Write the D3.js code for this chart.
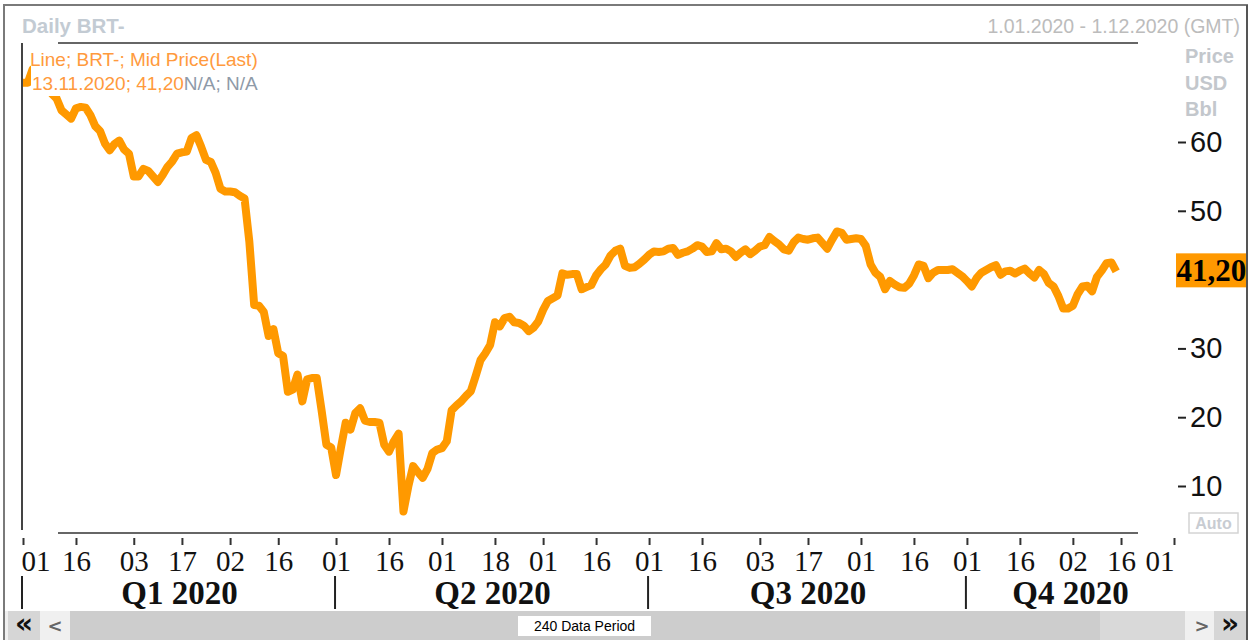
<!DOCTYPE html>
<html><head><meta charset="utf-8">
<script src="https://cdn.jsdelivr.net/npm/d3@7"></script>
<style>body{margin:0;background:#fff;overflow:hidden}</style>
</head><body>
<svg id="c" width="1252" height="640"></svg>
<script>
const titleText = "Daily BRT-";
const rangeText = "1.01.2020 - 1.12.2020 (GMT)";
const seriesName = "Line; BRT-; Mid Price(Last)";
const unitLabels = ["Price", "USD", "Bbl"];
const periodLabel = "240 Data Period";

// Daily mid price (USD/bbl), one value per weekday starting 2020-01-01, ending 2020-11-13
const prices = [
  68.6, 68.6, 70.6, 70.8, 70.4, 68.9, 67.0, 66.3, 64.6, 64.0,
  63.4, 64.9, 65.1, 65.0, 63.9, 62.3, 61.6, 59.8, 58.8, 59.7,
  60.2, 58.9, 58.3, 55.0, 55.0, 56.1, 55.8, 55.0, 54.2, 55.2,
  56.4, 57.2, 58.3, 58.5, 58.6, 60.6, 61.0, 59.3, 57.4, 57.1,
  55.5, 53.2, 52.8, 52.8, 52.7, 52.2, 51.8, 45.5, 36.3, 36.2,
  35.3, 31.8, 32.8, 29.3, 28.9, 23.7, 24.0, 26.2, 22.3, 25.5,
  25.7, 25.7, 21.0, 16.0, 15.6, 11.6, 15.5, 19.2, 18.2, 20.6,
  21.3, 19.5, 19.3, 19.3, 19.2, 16.0, 15.0, 16.5, 17.6, 6.3,
  9.9, 12.9, 12.0, 11.2, 12.5, 14.8, 15.3, 15.5, 16.5, 21.0,
  21.7, 22.3, 23.1, 23.8, 26.0, 28.3, 29.3, 30.5, 33.8, 33.2,
  34.4, 34.6, 33.8, 33.7, 33.3, 32.5, 33.0, 33.9, 35.6, 36.9,
  37.3, 37.7, 40.9, 40.7, 40.8, 40.8, 38.6, 38.9, 39.2, 40.6,
  41.5, 42.2, 43.5, 44.2, 44.5, 42.0, 41.7, 41.8, 42.3, 42.9,
  43.6, 44.1, 44.0, 44.1, 44.5, 44.6, 43.6, 43.9, 44.1, 44.5,
  45.0, 44.8, 44.0, 44.1, 45.3, 44.4, 44.5, 44.1, 43.3, 43.9,
  44.4, 43.7, 44.2, 44.8, 45.0, 46.2, 45.6, 45.1, 44.4, 44.2,
  45.4, 46.1, 45.9, 45.8, 46.0, 46.1, 45.3, 44.5, 45.8, 47.0,
  46.8, 45.8, 45.9, 46.0, 45.9, 44.9, 42.2, 41.0, 40.4, 38.6,
  39.8, 39.3, 38.9, 38.8, 39.4, 40.6, 42.2, 42.0, 40.2, 41.0,
  41.4, 41.4, 41.4, 41.5, 41.0, 40.5, 39.8, 39.0, 40.2, 41.0,
  41.4, 41.8, 42.1, 40.7, 41.2, 41.3, 40.9, 41.3, 41.6, 40.9,
  40.3, 41.4, 40.8, 39.5, 39.0, 37.6, 35.8, 35.8, 36.2, 37.9,
  39.0, 39.1, 38.3, 40.4, 41.3, 42.4, 42.5, 41.2
];

const tickDates = ["2020-01-01","2020-01-16","2020-02-03","2020-02-17","2020-03-02","2020-03-16",
  "2020-04-01","2020-04-16","2020-05-01","2020-05-18","2020-06-01","2020-06-16",
  "2020-07-01","2020-07-16","2020-08-03","2020-08-17","2020-09-01","2020-09-16",
  "2020-10-01","2020-10-16","2020-11-02","2020-11-16","2020-12-01"];
const tickLabels = ["01","16","03","17","02","16","01","16","01","18","01","16",
  "01","16","03","17","01","16","01","16","02","16","01"];
const quarterLabels = ["Q1 2020","Q2 2020","Q3 2020","Q4 2020"];
const quarterStarts = ["2020-01-01","2020-04-01","2020-07-01","2020-10-01","2020-12-01"];
const yTicks = [10, 20, 30, 40, 50, 60];

const fmt = d3.timeFormat("%Y-%m-%d");
const days = d3.timeDay.range(new Date(2020,0,1), new Date(2020,11,2))
  .filter(d => d.getDay() !== 0 && d.getDay() !== 6);
const idx = s => days.findIndex(d => fmt(d) === s);

const svg = d3.select("#c");
const ORANGE = "#ff9900";

// frame
svg.append("rect").attr("x",4).attr("y",5).attr("width",1243).attr("height",640)
  .attr("fill","#fff").attr("stroke","#7a7a7a").attr("stroke-width",2);

const x = d3.scaleLinear().domain([0, days.length - 1]).range([23, 1174]);
const y = d3.scaleLinear().domain([10, 60]).range([486, 142]);

// header
svg.append("text").attr("x",22).attr("y",33).text(titleText)
  .style("font","bold 20.5px 'Liberation Sans', Arial, sans-serif").attr("fill","#c3cbd3");
svg.append("text").attr("x",1240).attr("y",33).attr("text-anchor","end").text(rangeText)
  .style("font","19.5px 'Liberation Sans', Arial, sans-serif").attr("fill","#bcbcbc");
unitLabels.forEach((t,i) => svg.append("text").attr("x",1185).attr("y",63 + i*26.5).text(t)
  .style("font","bold 20px 'Liberation Sans', Arial, sans-serif").attr("fill","#c3c7cc"));

// frame lines
svg.append("line").attr("x1",58).attr("x2",1138).attr("y1",43).attr("y2",43).attr("stroke","#666").attr("stroke-width",2);
svg.append("line").attr("x1",58).attr("x2",1138).attr("y1",533).attr("y2",533).attr("stroke","#666").attr("stroke-width",2);
svg.append("line").attr("x1",22).attr("x2",22).attr("y1",43).attr("y2",530).attr("stroke","#444").attr("stroke-width",2);

// price line
const line = d3.line().x((d,i) => x(i)).y(d => y(d));
svg.append("path").datum(prices).attr("d", line).attr("fill","none")
  .attr("stroke", ORANGE).attr("stroke-width",8).attr("stroke-linejoin","round");

// legend (with white background covering the line)
svg.append("rect").attr("x",31).attr("y",47).attr("width",245).attr("height",49).attr("fill","#fff");
const lastIdx = prices.length - 1;
const lastVal = d3.format(".2f")(prices[lastIdx]).replace(".", ",");
const lastDate = d3.timeFormat("%d.%m.%Y")(days[lastIdx]);
svg.append("text").attr("x",30).attr("y",66).text(seriesName)
  .style("font","19px 'Liberation Sans', Arial, sans-serif").attr("fill","#ff9a3d");
const l2 = svg.append("text").attr("x",32).attr("y",90)
  .style("font","19px 'Liberation Sans', Arial, sans-serif");
l2.append("tspan").attr("fill","#ff9a3d").text(lastDate + "; " + lastVal);
l2.append("tspan").attr("fill","#8e9aa8").text("N/A; N/A");

// bottom axis
const tickIdx = tickDates.map(idx);
const xAxis = d3.axisBottom(x).tickValues(tickIdx).tickSize(7).tickFormat((d,i) => tickLabels[i]);
const gx = svg.append("g").attr("transform","translate(0,538)").call(xAxis);
gx.select(".domain").remove();
gx.selectAll(".tick line").attr("stroke","#333").attr("stroke-width",2);
gx.selectAll(".tick text").attr("y",12).attr("dy","0.71em").attr("fill","#111")
  .style("font","29px 'Liberation Serif', 'Times New Roman', serif")
  .attr("text-anchor",(d,i) => i === 0 ? "start" : (i === tickIdx.length - 1 ? "end" : "middle"))
  .attr("dx",(d,i) => i === 0 ? -2 : 0);

// quarters
const qIdx = quarterStarts.map(idx);
quarterLabels.forEach((q,i) => {
  const x0 = x(qIdx[i]), x1 = x(qIdx[i+1]);
  svg.append("line").attr("x1",x0 - 1).attr("x2",x0 - 1).attr("y1",576).attr("y2",609)
    .attr("stroke","#222").attr("stroke-width",2);
  svg.append("text").attr("x",(x0 + x1)/2).attr("y",604).attr("text-anchor","middle").text(q)
    .style("font","bold 33px 'Liberation Serif', 'Times New Roman', serif").attr("fill","#111");
});

// last value label sits over the 40 tick, so that tick keeps only its mark
const lastY = y(prices[lastIdx]);
const hidden = v => Math.abs(y(v) - lastY) < 20;

// right axis
const yAxis = d3.axisRight(y).tickValues(yTicks).tickSize(8).tickPadding(4)
  .tickFormat(v => hidden(v) ? "" : d3.format("d")(v));
const gy = svg.append("g").attr("transform","translate(1178,0)").call(yAxis);
gy.select(".domain").remove();
gy.selectAll(".tick line").attr("stroke","#222").attr("stroke-width",2);
gy.selectAll(".tick text").attr("fill","#111")
  .style("font","29px 'Liberation Sans', Arial, sans-serif");

svg.append("rect").attr("x",1176).attr("y",lastY - 18).attr("width",71).attr("height",34).attr("fill",ORANGE);
svg.append("text").attr("x",1176.5).attr("y",lastY + 10).text(lastVal)
  .style("font","bold 31px 'Liberation Serif', 'Times New Roman', serif").attr("fill","#000");
svg.append("line").attr("x1",1247).attr("x2",1247).attr("y1",5).attr("y2",640).attr("stroke","#555").attr("stroke-width",2);

// Auto box
svg.append("rect").attr("x",1189).attr("y",513).attr("width",49).attr("height",20)
  .attr("fill","#fff").attr("stroke","#d4d4d4").attr("stroke-width",1.5);
svg.append("text").attr("x",1213.5).attr("y",529).attr("text-anchor","middle").text("Auto")
  .style("font","bold 16px 'Liberation Sans', Arial, sans-serif").attr("fill","#c8ccd2");

// scrollbar
const sbY = 611, sbH = 29;
svg.append("rect").attr("x",5).attr("y",sbY).attr("width",1241).attr("height",sbH).attr("fill","#f0f0f0");
svg.append("rect").attr("x",8).attr("y",sbY).attr("width",32).attr("height",sbH).attr("fill","#d6d6d6");
svg.append("rect").attr("x",70).attr("y",sbY).attr("width",1030).attr("height",sbH).attr("fill","#cdcdcd");
svg.append("rect").attr("x",1100).attr("y",sbY).attr("width",85).attr("height",sbH).attr("fill","#d9d9d9");
svg.append("rect").attr("x",1214).attr("y",sbY).attr("width",32).attr("height",sbH).attr("fill","#d6d6d6");
svg.append("text").attr("x",24).attr("y",633).attr("text-anchor","middle").text("«")
  .style("font","bold 28px 'DejaVu Sans', sans-serif").attr("fill","#111");
svg.append("text").attr("x",55).attr("y",632).attr("text-anchor","middle").text("<")
  .style("font","bold 18px 'DejaVu Sans', sans-serif").attr("fill","#666");
svg.append("text").attr("x",1202).attr("y",632).attr("text-anchor","middle").text(">")
  .style("font","bold 18px 'DejaVu Sans', sans-serif").attr("fill","#666");
svg.append("text").attr("x",1230).attr("y",633).attr("text-anchor","middle").text("»")
  .style("font","bold 28px 'DejaVu Sans', sans-serif").attr("fill","#111");
svg.append("rect").attr("x",518).attr("y",616).attr("width",133).attr("height",20).attr("fill","#fff");
svg.append("text").attr("x",584.5).attr("y",631).attr("text-anchor","middle").text(periodLabel)
  .style("font","14px 'Liberation Sans', Arial, sans-serif").attr("fill","#000");
</script>
</body></html>
